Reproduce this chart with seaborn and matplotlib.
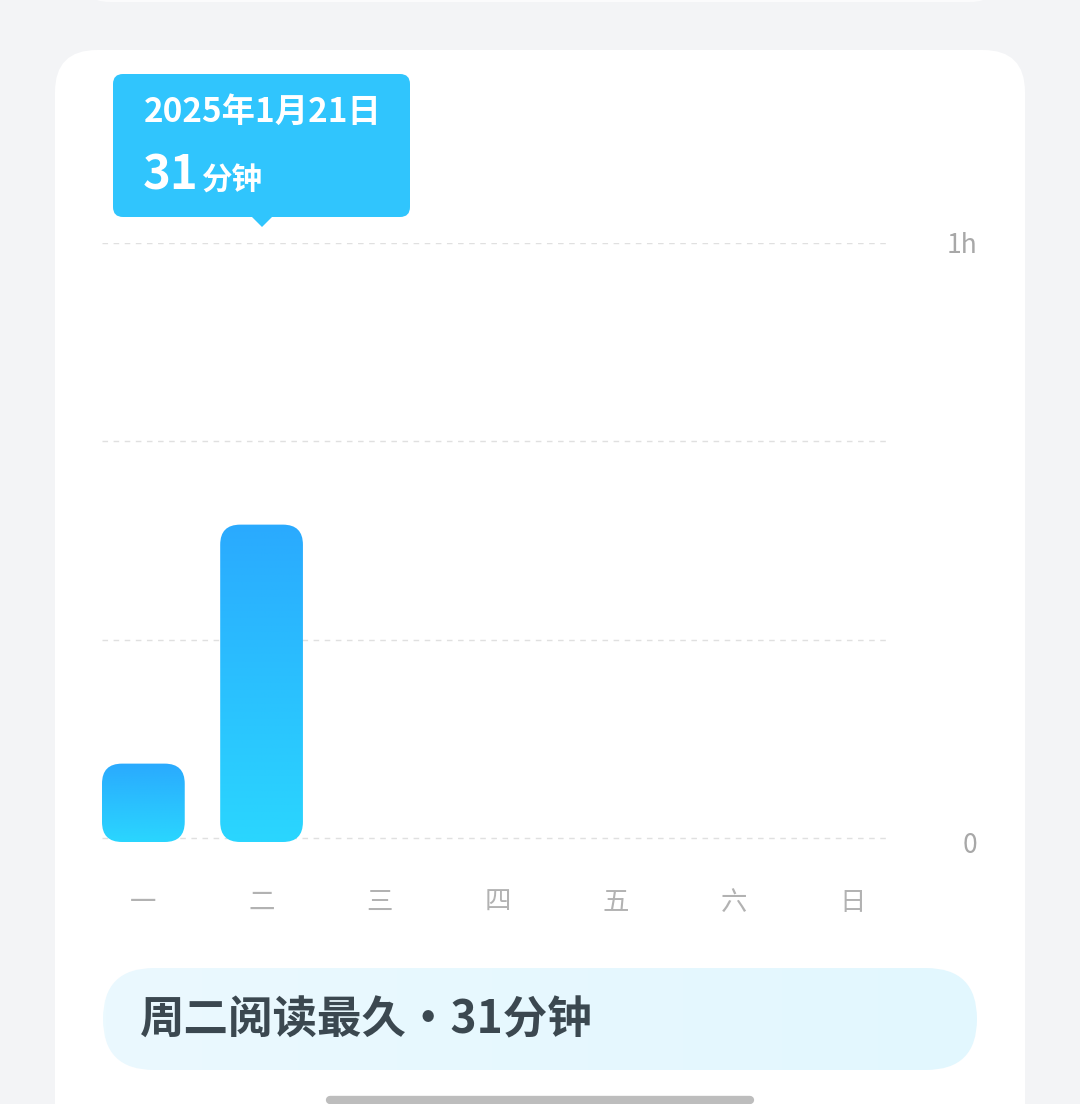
import numpy as np
import seaborn as sns
import matplotlib.pyplot as plt
from matplotlib.patches import FancyBboxPatch, Polygon
from matplotlib.colors import LinearSegmentedColormap
from matplotlib.transforms import ScaledTranslation

# 数据
days = ["一", "二", "三", "四", "五", "六", "日"]
minutes = [7.5, 31.6, 0, 0, 0, 0, 0]
grid_levels = [0, 20, 40, 60]
y_ticks = [0, 60]
y_labels = ["0", "1h"]
tip_date = "2025年1月21日"
tip_value = "31"
tip_unit = "分钟"
summary = "周二阅读最久·31分钟"

sns.set_theme(style="white")
plt.rcParams["font.family"] = ["Noto Sans CJK SC", "DejaVu Sans"]

W, H = 1080, 1104
fig = plt.figure(figsize=(W / 100, H / 100), dpi=100)
fig.patch.set_facecolor("#f3f4f6")

# 背景层: 像素坐标
bg = fig.add_axes([0, 0, 1, 1], zorder=0)
bg.set_xlim(0, W)
bg.set_ylim(H, 0)
bg.axis("off")

bg.add_patch(FancyBboxPatch((80, -60), 920, 62, boxstyle="round,pad=0,rounding_size=30",
                            fc="#fbfbfc", ec="none"))
bg.add_patch(FancyBboxPatch((55, 50), 970, 1120, boxstyle="round,pad=0,rounding_size=42",
                            fc="white", ec="none"))

# 提示框
tip_c = "#30c5fd"
bg.add_patch(FancyBboxPatch((113, 74), 297, 143, boxstyle="round,pad=0,rounding_size=10",
                            fc=tip_c, ec="none"))
bg.add_patch(Polygon([(251, 216), (273, 216), (262, 227)], closed=True, fc=tip_c, ec="none"))
bg.text(144, 112, tip_date, color="white", fontsize=24, fontweight="bold", va="center", ha="left")
bg.text(143, 176, tip_value, color="white", fontsize=34, fontweight="bold", va="center", ha="left")
bg.text(201, 181, tip_unit, color="white", fontsize=22, fontweight="bold", va="center", ha="left")

# 底部总结
pill = FancyBboxPatch((103, 968), 874, 102, boxstyle="round,pad=0,rounding_size=51",
                      fc="none", ec="none")
bg.add_patch(pill)
grad_h = np.linspace(0, 1, 256).reshape(1, -1)
pill_cmap = LinearSegmentedColormap.from_list("pill", ["#ebf9fe", "#e2f7fe"])
bg.imshow(grad_h, extent=[103, 977, 1070, 968], aspect="auto", cmap=pill_cmap,
          clip_path=pill, zorder=2)
bg.text(140, 1020, summary, color="#3b4850", fontsize=32, fontweight="bold",
        va="center", ha="left", zorder=3)

bg.plot([330, 750], [1100, 1100], color="#bdbdbd", lw=6, solid_capstyle="round")
bg.set_xlim(0, W)
bg.set_ylim(H, 0)

# 柱状图: 0线在 y=838px, 1h线在 y=243px
left, right, top, zero_px = 102, 888, 243, 838
xlim = (-0.35, 6.3)
ylim = (-0.5, 60)
ppx = (right - left) / (xlim[1] - xlim[0])
ppy = (zero_px - top) / ylim[1]
bottom = zero_px - ylim[0] * ppy

ax = fig.add_axes([left / W, 1 - bottom / H, (right - left) / W, (bottom - top) / H], zorder=1)
ax.set_facecolor("none")

sns.barplot(x=days, y=minutes, ax=ax, width=0.7, color="#2ab0fd")

aspect = ppx / ppy
r = 20 / ppx
drop = 4 / ppy  # 柱底略低于0线

bar_cmap = LinearSegmentedColormap.from_list("bar", ["#2ad6ff", "#2aaafe"])
grad_v = np.linspace(0, 1, 256).reshape(-1, 1)
for p in list(ax.patches):
    x, w, h = p.get_x(), p.get_width(), p.get_height()
    p.set_visible(False)
    if h <= 0:
        continue
    box = FancyBboxPatch((x, -drop), w, h + drop, boxstyle=f"round,pad=0,rounding_size={r}",
                         mutation_aspect=aspect, fc="none", ec="none")
    ax.add_patch(box)
    im = ax.imshow(grad_v, extent=[x, x + w, -drop, h], origin="lower", aspect="auto",
                   cmap=bar_cmap, zorder=3)
    im.set_clip_path(box)

for lv in grid_levels:
    ax.axhline(lv, color="#e0e0e0", lw=1, dashes=(4, 4), zorder=1)

ax.set_xlim(*xlim)
ax.set_ylim(*ylim)
sns.despine(ax=ax, left=True, bottom=True)

ax.yaxis.tick_right()
ax.set_yticks(y_ticks)
ax.set_yticklabels(y_labels)
ax.tick_params(axis="y", length=0, pad=64, labelsize=19, labelcolor="#a8a8a8")
for lab in ax.get_yticklabels():
    lab.set_ha("right")
ax.tick_params(axis="x", length=0, pad=33, labelsize=19, labelcolor="#b2b2b2")
for lab in ax.get_xticklabels():
    lab.set_fontweight("light")
ax.set_xlabel("")
ax.set_ylabel("")

# "0" 标签略低于0线
zero_lab = ax.yaxis.get_major_ticks()[0].label2
zero_lab.set_transform(zero_lab.get_transform() + ScaledTranslation(0, -0.04, fig.dpi_scale_trans))

fig.savefig("out.png", dpi=100)
